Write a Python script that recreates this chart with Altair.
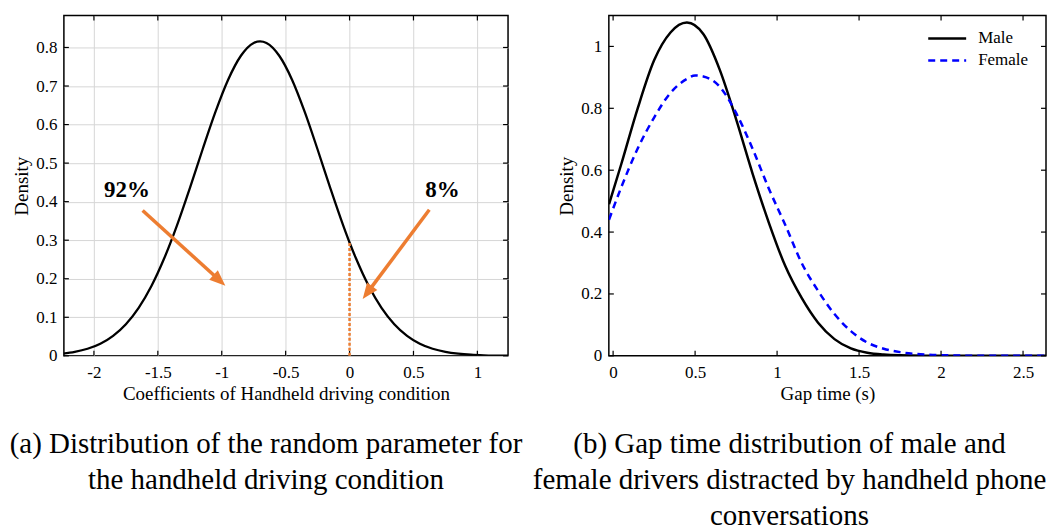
import altair as alt
import pandas as pd

FONT = "Liberation Serif"
ORANGE = "#ED7D31"

# ---------------- data: panel (a) ----------------
left_x = [-2.25, -2.15, -2.05, -1.95, -1.85, -1.75, -1.65, -1.55, -1.45, -1.35, -1.25, -1.15,
          -1.05, -0.95, -0.85, -0.75, -0.70, -0.65, -0.55, -0.45, -0.35, -0.25, -0.15, -0.05,
          0.0, 0.05, 0.15, 0.25, 0.35, 0.45, 0.55, 0.65, 0.75, 0.85, 0.95, 1.05, 1.15, 1.25]
left_y = [0.0055, 0.0102, 0.0183, 0.0315, 0.0520, 0.0822, 0.1246, 0.1812, 0.2530, 0.3385, 0.4346, 0.5353,
          0.6322, 0.7164, 0.7786, 0.8118, 0.8160, 0.8118, 0.7786, 0.7164, 0.6322, 0.5353, 0.4346, 0.3385,
          0.2940, 0.2530, 0.1812, 0.1246, 0.0822, 0.0520, 0.0315, 0.0183, 0.0102, 0.0055, 0.0028, 0.0014,
          0.0007, 0.0003]
left_xticks = [-2, -1.5, -1, -0.5, 0, 0.5, 1]
left_yticks = [0, 0.1, 0.2, 0.3, 0.4, 0.5, 0.6, 0.7, 0.8]

cut_x = [0.0]
cut_top = [0.294]

arrow_x = [-1.619, 0.624]
arrow_y = [0.377, 0.379]
arrow_x2 = [-1.018, 0.140]
arrow_y2 = [0.196, 0.164]
arrow_angle = [132.2, 216.7]

pct_labels = ["92%", "8%"]
pct_x = [-1.742, 0.727]
pct_y = [0.429, 0.429]

# ---------------- data: panel (b) ----------------
male_x = [-0.025, 0.05, 0.15, 0.25, 0.35, 0.45, 0.55, 0.65, 0.75, 0.85, 0.95, 1.05, 1.15, 1.25,
          1.35, 1.45, 1.55, 1.65, 1.75, 1.9, 2.1, 2.4, 2.64]
male_y = [0.49, 0.62, 0.80, 0.955, 1.045, 1.077, 1.04, 0.925, 0.765, 0.59, 0.43, 0.29, 0.187, 0.107,
          0.054, 0.024, 0.010, 0.004, 0.0015, 0.0004, 0.0001, 0.0, 0.0]
female_x = [-0.025, 0.05, 0.15, 0.25, 0.35, 0.45, 0.5, 0.55, 0.65, 0.75, 0.85, 0.95, 1.05, 1.15,
            1.25, 1.35, 1.45, 1.55, 1.65, 1.75, 1.85, 1.95, 2.1, 2.3, 2.64]
female_y = [0.44, 0.545, 0.67, 0.77, 0.85, 0.895, 0.906, 0.903, 0.87, 0.785, 0.67, 0.54, 0.423, 0.30,
            0.21, 0.135, 0.08, 0.043, 0.023, 0.012, 0.006, 0.003, 0.001, 0.0, 0.0]
right_xticks = [0, 0.5, 1, 1.5, 2, 2.5]
right_yticks = [0, 0.2, 0.4, 0.6, 0.8, 1]
legend_labels = ["Male", "Female"]

caption_a = ["(a) Distribution of the random parameter for", "the handheld driving condition"]
caption_b = ["(b) Gap time distribution of male and",
             "female drivers distracted by handheld phone", "conversations"]

W1, W2, H = 445, 438, 341
TICK = 5


def frame_ticks(xticks, yticks, w):
    xt = pd.DataFrame({"x": xticks})
    yt = pd.DataFrame({"y": yticks})
    base_x = alt.Chart(xt).mark_rule(color="black", strokeWidth=1.2)
    base_y = alt.Chart(yt).mark_rule(color="black", strokeWidth=1.2)
    return [
        base_x.encode(x="x:Q", y=alt.value(H), y2=alt.value(H - TICK)),
        base_x.encode(x="x:Q", y=alt.value(0), y2=alt.value(TICK)),
        base_y.encode(y="y:Q", x=alt.value(0), x2=alt.value(TICK)),
        base_y.encode(y="y:Q", x=alt.value(w), x2=alt.value(w - TICK)),
    ]


def axis(values, title, lpad, grid):
    kw = dict(values=values, ticks=False, domain=False, labelExpr="toString(datum.value)",
              labelPadding=lpad, title=title, labelFont=FONT, titleFont=FONT,
              labelFontSize=17, titleFontSize=19, labelColor="black", titleColor="black",
              titleFontWeight="normal", grid=grid)
    if grid:
        kw.update(gridColor="#d6d6d6", gridWidth=1)
    return alt.Axis(**kw)


# ---------------- panel (a) ----------------
xs_l = alt.Scale(domain=[-2.235, 1.24], nice=False, zero=False)
ys_l = alt.Scale(domain=[0, 0.883], nice=False)

curve = alt.Chart(pd.DataFrame({"x": left_x, "y": left_y})).mark_line(
    color="black", strokeWidth=2.3, interpolate="monotone", clip=True
).encode(
    x=alt.X("x:Q", scale=xs_l, axis=axis(left_xticks, "Coefficients of Handheld driving condition", 9, True)),
    y=alt.Y("y:Q", scale=ys_l, axis=axis(left_yticks, "Density", 7, True)),
)

cut = alt.Chart(pd.DataFrame({"x": cut_x, "y": [0.0], "y2": cut_top})).mark_rule(
    color=ORANGE, strokeWidth=2.5, strokeDash=[3, 2]
).encode(x="x:Q", y="y:Q", y2="y2:Q")

arrows_df = pd.DataFrame({"x": arrow_x, "y": arrow_y, "x2": arrow_x2, "y2": arrow_y2, "ang": arrow_angle})
shafts = alt.Chart(arrows_df).mark_rule(color=ORANGE, strokeWidth=3.5).encode(
    x="x:Q", y="y:Q", x2="x2:Q", y2="y2:Q")
heads = alt.Chart(arrows_df).mark_point(
    shape="M0,-1L0.8,1L-0.8,1Z", filled=True, color=ORANGE, size=256, opacity=1, strokeWidth=0
).encode(x="x2:Q", y="y2:Q", angle=alt.Angle("ang:Q", scale=None))

pct = alt.Chart(pd.DataFrame({"x": pct_x, "y": pct_y, "t": pct_labels})).mark_text(
    font=FONT, fontSize=23, fontWeight="bold", color="black", align="center", baseline="middle"
).encode(x="x:Q", y="y:Q", text="t:N")

left = alt.layer(curve, *frame_ticks(left_xticks, left_yticks, W1), cut, shafts, heads, pct).properties(
    width=W1, height=H,
    title=alt.TitleParams(text=caption_a, orient="bottom", anchor="middle", dx=-20, offset=26,
                          lineHeight=36, fontSize=29, font=FONT, fontWeight="normal", color="black"),
)

# ---------------- panel (b) ----------------
xs_r = alt.Scale(domain=[-0.026, 2.64], nice=False, zero=False)
ys_r = alt.Scale(domain=[0, 1.1], nice=False)

male = alt.Chart(pd.DataFrame({"x": male_x, "y": male_y})).mark_line(
    color="black", strokeWidth=2.5, interpolate="monotone", clip=True
).encode(
    x=alt.X("x:Q", scale=xs_r, axis=axis(right_xticks, "Gap time (s)", 9, False)),
    y=alt.Y("y:Q", scale=ys_r, axis=axis(right_yticks, "Density", 7, False)),
)
female = alt.Chart(pd.DataFrame({"x": female_x, "y": female_y})).mark_line(
    color="#0000FF", strokeWidth=2.5, strokeDash=[7, 5], interpolate="monotone", clip=True
).encode(x="x:Q", y="y:Q")

leg_male_line = alt.Chart(pd.DataFrame({"t": [legend_labels[0]]})).mark_rule(
    color="black", strokeWidth=2.5).encode(x=alt.value(320), x2=alt.value(358), y=alt.value(23))
leg_female_line = alt.Chart(pd.DataFrame({"t": [legend_labels[1]]})).mark_rule(
    color="#0000FF", strokeWidth=2.5, strokeDash=[7, 5]).encode(x=alt.value(320), x2=alt.value(358), y=alt.value(45))
leg_male_txt = alt.Chart(pd.DataFrame({"t": [legend_labels[0]]})).mark_text(
    font=FONT, fontSize=17, align="left", baseline="middle", color="black").encode(
    x=alt.value(370), y=alt.value(23), text="t:N")
leg_female_txt = alt.Chart(pd.DataFrame({"t": [legend_labels[1]]})).mark_text(
    font=FONT, fontSize=17, align="left", baseline="middle", color="black").encode(
    x=alt.value(370), y=alt.value(45), text="t:N")

right = alt.layer(male, female, *frame_ticks(right_xticks, right_yticks, W2),
                  leg_male_line, leg_female_line, leg_male_txt, leg_female_txt).properties(
    width=W2, height=H,
    title=alt.TitleParams(text=caption_b, orient="bottom", anchor="middle", dx=-38, offset=26,
                          lineHeight=36, fontSize=29, font=FONT, fontWeight="normal", color="black"),
)

chart = alt.hconcat(left, right, spacing=101, bounds="flush").properties(
    padding={"left": 0, "top": 5, "right": 0, "bottom": 0}, background="white"
).configure_view(stroke="black", strokeWidth=1.5)

chart.save("out.html", embed_options={"renderer": "svg", "actions": False})
